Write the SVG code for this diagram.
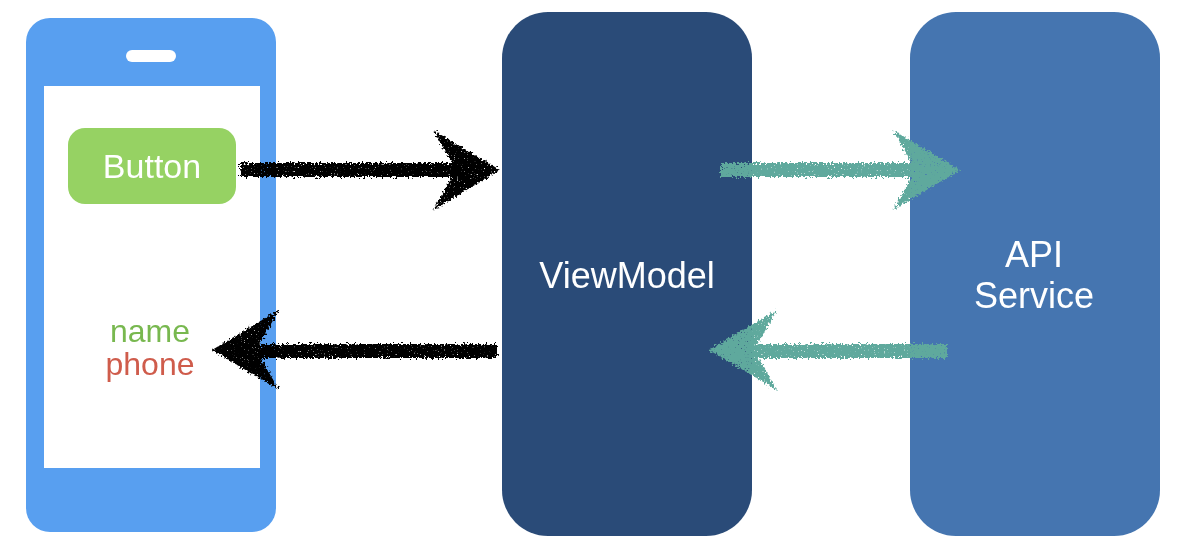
<svg xmlns="http://www.w3.org/2000/svg" width="1197" height="558" viewBox="0 0 1197 558">
<defs>
<filter id="rough" x="-10%" y="-50%" width="120%" height="200%">
<feTurbulence type="fractalNoise" baseFrequency="0.5" numOctaves="2" seed="4" result="n"/>
<feDisplacementMap in="SourceGraphic" in2="n" scale="8" xChannelSelector="R" yChannelSelector="G" result="d"/>
<feTurbulence type="fractalNoise" baseFrequency="0.7" numOctaves="1" seed="9"/>
<feColorMatrix type="matrix" values="0 0 0 0 0 0 0 0 0 0 0 0 0 0 0 7 0 0 0 -1.35"/>
<feComposite in="d" operator="in"/>
<feGaussianBlur stdDeviation="0.7"/>
</filter>
<filter id="soft" x="-2%" y="-2%" width="104%" height="104%"><feGaussianBlur stdDeviation="0.6"/></filter>
</defs>
<style>
text{font-family:"Liberation Sans",Arial,sans-serif;text-anchor:middle}
.w{fill:#fff}
.big{font-size:36px}
.mid{font-size:34px}
.sm{font-size:32px}
.shaft{fill:none;stroke-width:14}
.k{stroke:#000;fill:#000}
.t{stroke:#5fa99d;fill:#5fa99d}
.head{stroke:none}
</style>
<rect width="1197" height="558" fill="#fff"/>
<g id="phone" filter="url(#soft)">
<rect x="26" y="18" width="250" height="514" rx="24" fill="#589ff0"/>
<rect x="126" y="50" width="50" height="12" rx="6" fill="#fff"/>
<rect x="44" y="86" width="216" height="382" fill="#fff"/>
</g>
<g id="button" filter="url(#soft)">
<rect x="68" y="128" width="168" height="76" rx="17" fill="#96d264"/>
<text class="mid w" x="152" y="178">Button</text>
</g>
<g id="labels" filter="url(#soft)">
<text class="sm" x="150" y="342" fill="#78b850">name</text>
<text class="sm" x="150" y="375" fill="#cf5b4c">phone</text>
</g>
<g id="viewmodel" filter="url(#soft)">
<rect x="502" y="12" width="250" height="524" rx="46" fill="#2b4c78"/>
<text class="big w" x="627" y="288">ViewModel</text>
</g>
<g id="api" filter="url(#soft)">
<rect x="910" y="12" width="250" height="524" rx="46" fill="#4475b0"/>
<text class="big w" x="1034" y="267">API</text>
<text class="big w" x="1034" y="308">Service</text>
</g>
<g id="connectors">
<g filter="url(#rough)">
<path class="shaft k" d="M240 170H480"/>
<path class="head k" d="M433 130L500 170L433 210L456 170Z"/>
<path class="shaft k" d="M497 351H240"/>
<path class="head k" d="M279 310L212 350L279 390L256 350Z"/>
</g>
<g filter="url(#rough)">
<path class="shaft t" d="M721 170H930"/>
<path class="head t" d="M893 130L960 170L893 210L916 170Z"/>
<path class="shaft t" d="M947 351H740"/>
<path class="head t" d="M777 310L709 350L777 390L754 350Z"/>
</g>
</g>
</svg>
